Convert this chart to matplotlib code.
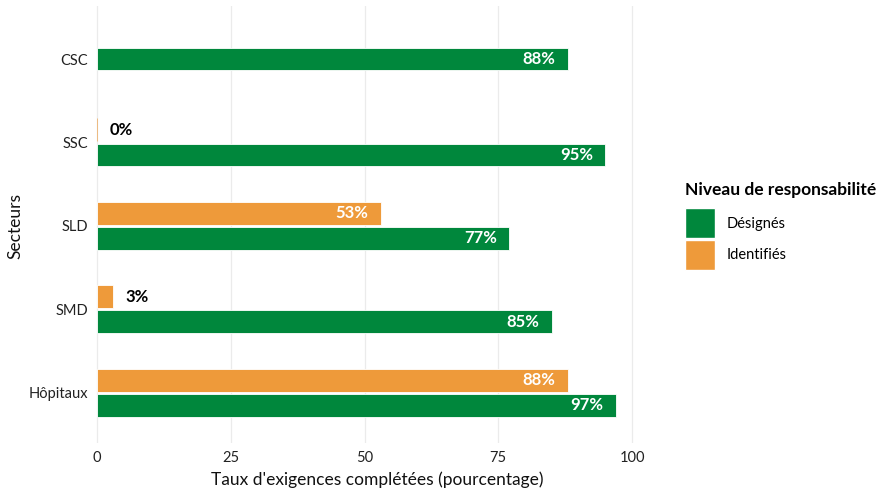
import numpy as np
import matplotlib
matplotlib.use("Agg")
import matplotlib.pyplot as plt
from matplotlib.patches import Patch

plt.rcParams["font.family"] = ["Lato", "DejaVu Sans"]

secteurs = ["CSC", "SSC", "SLD", "SMD", "Hôpitaux"]
designes = [88, 95, 77, 85, 97]
identifies = [None, 0, 53, 3, 88]

vert = "#00873C"
orange = "#EE9A3A"

fig = plt.figure(figsize=(8.9, 4.93), dpi=100)
ax = fig.add_axes([91.4 / 890, 1 - 443 / 493, (664.4 - 91.4) / 890, (443 - 6) / 493])

h = 0.275
off = 0.15
ypos = np.arange(len(secteurs))

for i, (d, ident) in enumerate(zip(designes, identifies)):
    if ident is None:
        yd = i
    else:
        yd = i + off
        yi = i - off
        if ident == 0:
            ax.barh(yi, ident, height=h, color=orange, edgecolor=orange, linewidth=0.7, alpha=0.6)
        else:
            ax.barh(yi, ident, height=h, color=orange, edgecolor="white", linewidth=0.6)
        if ident >= 10:
            ax.text(ident - 2.3, yi, f"{ident}%", ha="right", va="center",
                    color="white", fontsize=12, fontweight="bold")
        else:
            ax.text(ident + 2.3, yi, f"{ident}%", ha="left", va="center",
                    color="black", fontsize=12, fontweight="bold")
    ax.barh(yd, d, height=h, color=vert, edgecolor="white", linewidth=0.6)
    ax.text(d - 2.3, yd, f"{d}%", ha="right", va="center",
            color="white", fontsize=12, fontweight="bold")

ax.set_xlim(-1.05, 106.05)
ax.set_ylim(len(secteurs) - 1 + 0.6, -0.635)
ax.set_xticks([0, 25, 50, 75, 100])
ax.set_yticks(ypos)
ax.set_yticklabels(secteurs)
ax.grid(axis="x", color="#ebebeb", linewidth=0.9)
ax.set_axisbelow(True)
for s in ax.spines.values():
    s.set_visible(False)
ax.tick_params(length=0, labelsize=10.5, colors="#222222")
ax.tick_params(axis="y", pad=2.5)
ax.tick_params(axis="x", pad=6)

fig.text(377 / 890, 1 - 480 / 493, "Taux d'exigences complétées (pourcentage)",
         ha="center", va="center", fontsize=12.5, color="#111111")
fig.text(15 / 890, 1 - 226 / 493, "Secteurs", rotation=90,
         ha="center", va="center", fontsize=12.5, color="#111111")

handles = [Patch(facecolor=vert, edgecolor="white"), Patch(facecolor=orange, edgecolor="white")]
leg = fig.legend(handles, ["Désignés", "Identifiés"], title="Niveau de responsabilité",
                 loc="upper left", bbox_to_anchor=(684 / 890, 1 - 181 / 493),
                 frameon=False, fontsize=10.5, handlelength=2.05, handleheight=2.8,
                 handletextpad=0.75, labelspacing=0.1, borderaxespad=0, borderpad=0.1)
leg.get_title().set_fontweight("bold")
leg.get_title().set_fontsize(12.5)
leg._legend_box.align = "left"
leg._legend_box.sep = 7

fig.savefig("out.png", dpi=100, facecolor="white")
